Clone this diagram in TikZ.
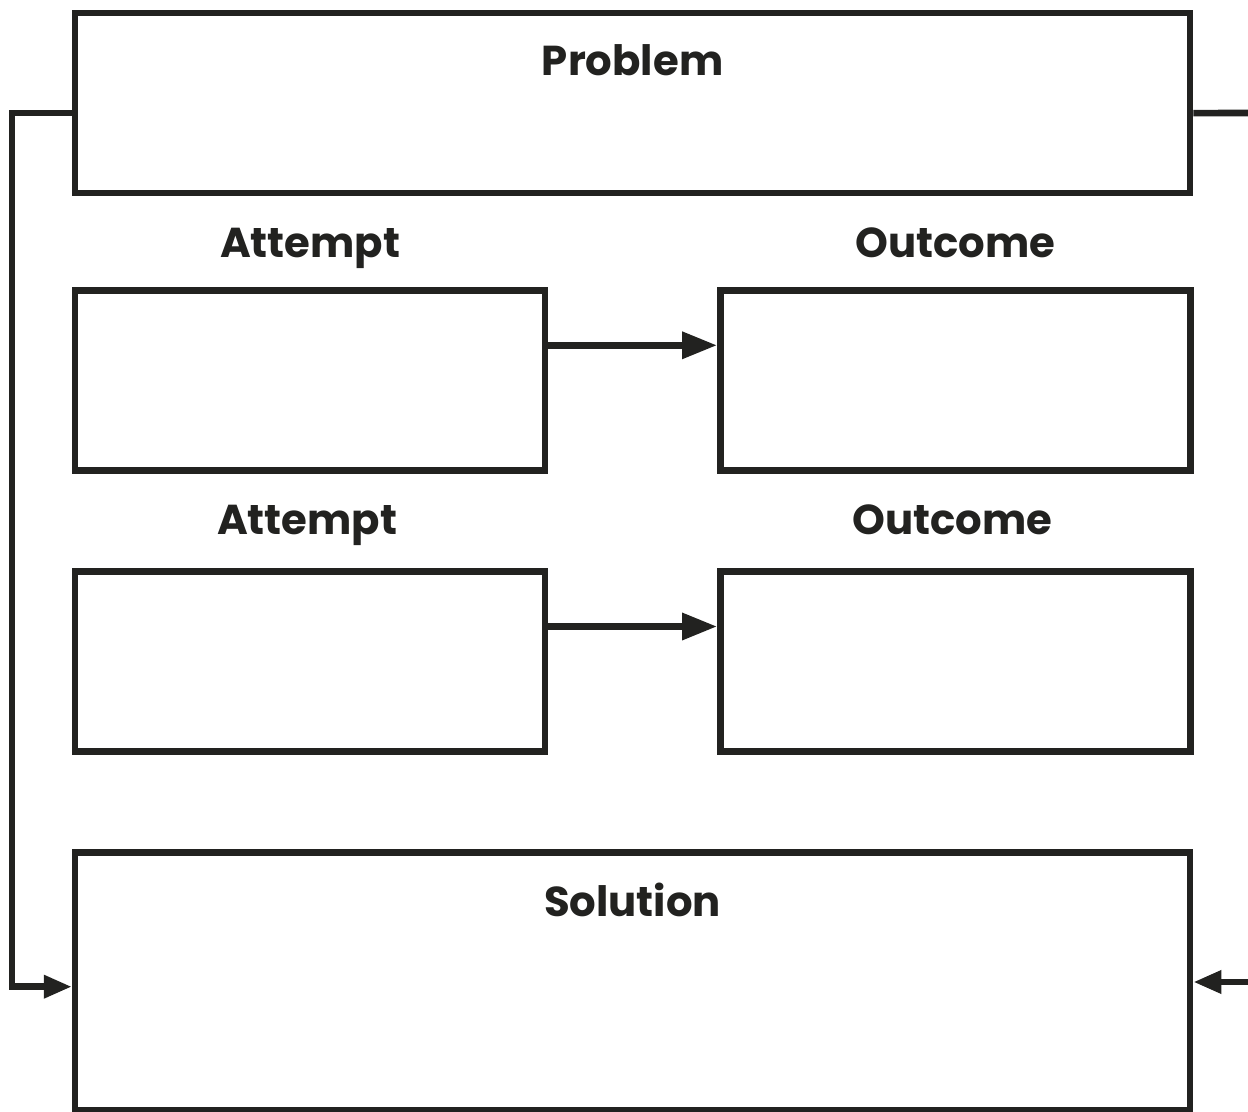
\documentclass[tikz,border=0pt]{standalone}
\usepackage{fontspec}
\setmainfont{Poppins}
\usetikzlibrary{arrows.meta,positioning}
\definecolor{ink}{HTML}{222220}
\tikzset{
  box/.style={
    draw=ink, line width=3.3pt, fill=white,
    minimum width=235pt, minimum height=90pt, inner sep=0pt
  },
  widebox/.style={box, minimum width=557.5pt},
  heading/.style={font=\fontsize{20.9}{25}\selectfont\bfseries, text=ink, inner sep=0pt, anchor=base},
  flow/.style={-{Triangle[length=17.5pt,width=13pt]}, draw=ink, line width=3.3pt},
  loopflow/.style={-{Triangle[length=14pt,width=11pt]}, draw=ink, line width=3.3pt}
}

\begin{document}
\begin{tikzpicture}
  \useasboundingbox (0,0) rectangle (624pt,-556pt);

  \node[widebox, anchor=north west] (problem) at (35.9pt,-4.9pt) {};
  \node[box, below=45.3pt of problem.south west, anchor=north west] (attempt1) {};
  \node[box, right=84.3pt of attempt1] (outcome1) {};
  \node[box, below=47.3pt of attempt1] (attempt2) {};
  \node[box, right=84.3pt of attempt2] (outcome2) {};
  \node[widebox, minimum height=129pt, below=47.3pt of attempt2.south west, anchor=north west] (solution) {};

  \node[heading] (problemtitle) at ([yshift=-33.1pt]problem.north) {Problem};
  \node[heading] (solutiontitle) at ([yshift=-33.6pt]solution.north) {Solution};
  \node[heading] (attempttitle1) at ([yshift=14.9pt]attempt1.north) {Attempt};
  \node[heading] (outcometitle1) at ([yshift=14.9pt]outcome1.north) {Outcome};
  \node[heading] (attempttitle2) at ([yshift=16.9pt,xshift=-1.5pt]attempt2.north) {Attempt};
  \node[heading] (outcometitle2) at ([yshift=16.9pt,xshift=-1.5pt]outcome2.north) {Outcome};

  \draw[flow] ([yshift=17.5pt]attempt1.east) -- ([yshift=17.5pt]outcome1.west);
  \draw[flow] ([yshift=17.5pt]attempt2.east) -- ([yshift=17.5pt]outcome2.west);

  % loop round the page edges
  \coordinate (rightout) at (624pt,-56.5pt);
  \coordinate (rightin) at (624pt,-491pt);
  \draw[draw=ink, line width=3.3pt] ([yshift=-5pt]problem.east) -- (rightout);
  \draw[loopflow] ([yshift=-5pt]problem.west) -| ([xshift=-30pt,yshift=-2.5pt]solution.west) -- ([yshift=-2.5pt]solution.west);
  \draw[loopflow] (rightin) -- (solution.east |- rightin);
\end{tikzpicture}
\end{document}
